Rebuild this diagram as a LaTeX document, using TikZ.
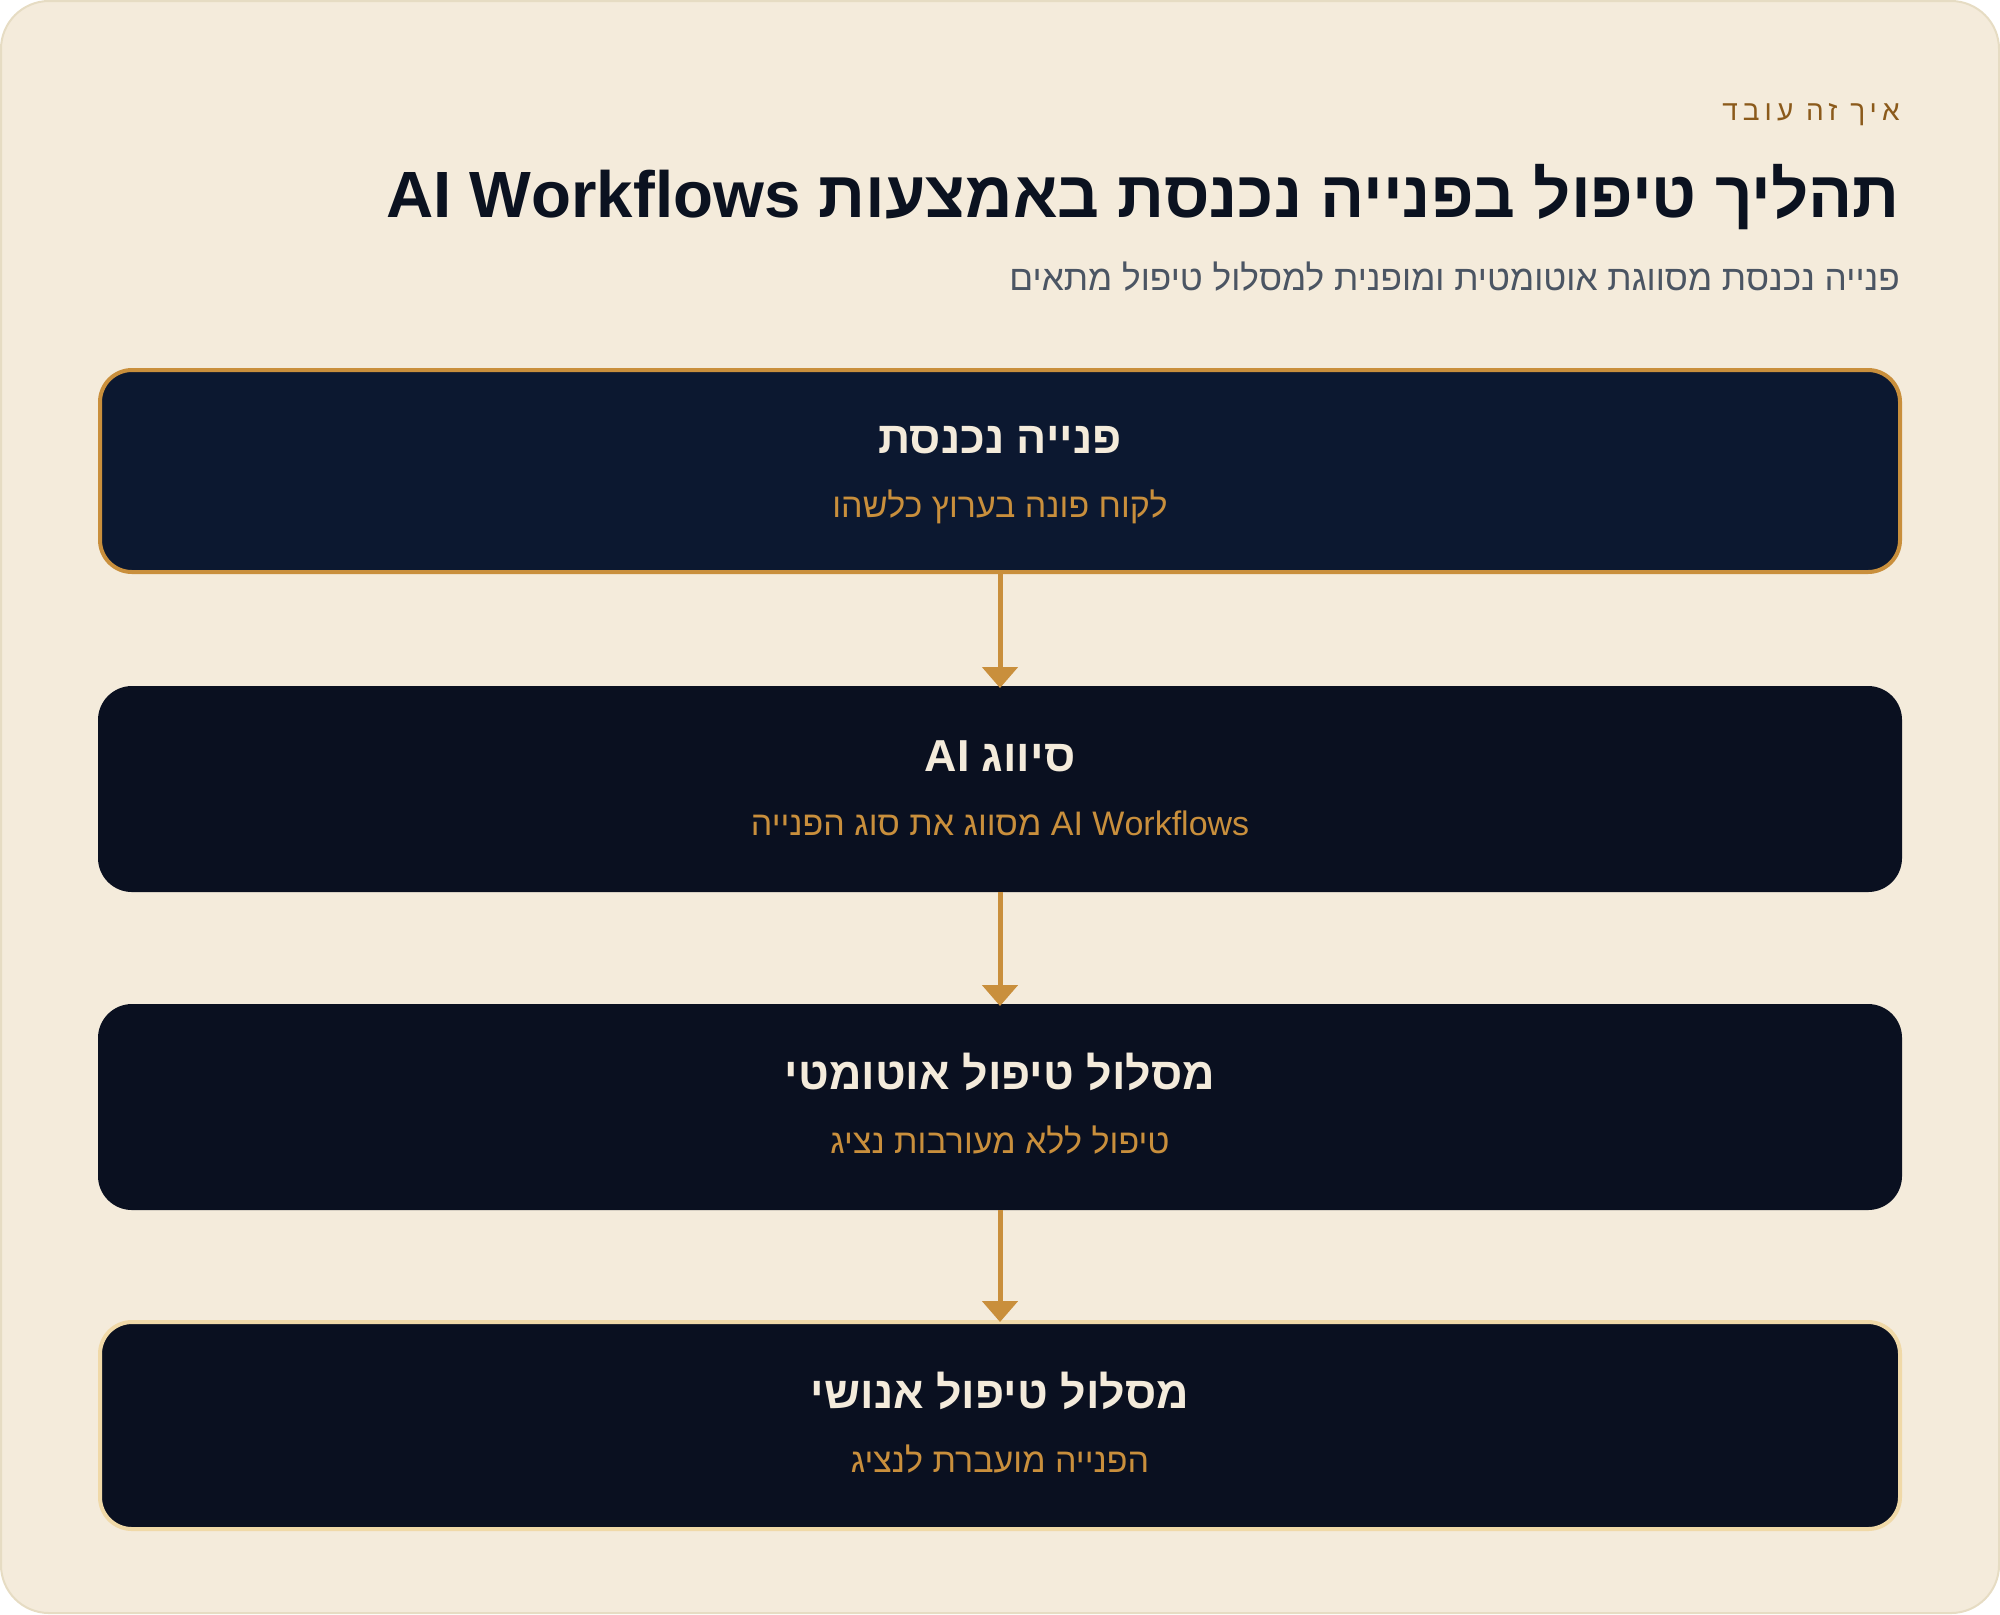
\documentclass[tikz,border=0pt]{standalone}
\usepackage{fontspec}
\setmainfont{Liberation Sans}
\newfontfamily\heb[Script=Hebrew]{Liberation Sans}
\newfontfamily\hebsp[Script=Hebrew,LetterSpace=18]{Liberation Sans}
\TeXXeTstate=1
\usetikzlibrary{arrows.meta}
\definecolor{bgc}{HTML}{F4EBDB}
\definecolor{cardline}{HTML}{E6DCC3}
\definecolor{labelc}{HTML}{8B5A1B}
\definecolor{titlec}{HTML}{0B1220}
\definecolor{subc}{HTML}{4B5563}
\definecolor{boxa}{HTML}{0C1830}
\definecolor{boxb}{HTML}{0A1020}
\definecolor{gold}{HTML}{C98F3C}
\definecolor{pale}{HTML}{F0D9A8}
\definecolor{cream}{HTML}{F4EBDB}
\tikzset{
  x=0.5pt, y=-0.5pt,
  stepbox/.style={rectangle, rounded corners=16pt, minimum width=900pt, minimum height=101pt,
    inner sep=0pt, line width=2pt, fill=boxb, draw=boxb},
  boxtitle/.style={anchor=base, text=cream, font=\heb\bfseries\fontsize{22.4}{27}\selectfont, inner sep=0pt},
  boxsub/.style={anchor=base, text=gold, font=\heb\fontsize{17}{20}\selectfont, inner sep=0pt},
  flow/.style={draw=gold, line width=2.5pt, -{Triangle[width=17.5pt,length=10.5pt]}, shorten >=-1pt},
}
\begin{document}
\begin{tikzpicture}
\useasboundingbox (0,0) rectangle (2000,1614);
\draw[fill=bgc, draw=cardline, line width=1pt, rounded corners=24pt] (1,1) rectangle (1999,1613);
% header
\node[anchor=base east, inner sep=0pt, text=labelc, font=\hebsp\fontsize{14}{17}\selectfont] (label) at (1900,120) {\beginR איך זה עובד\endR};
\node[anchor=base east, inner sep=0pt, text=titlec, font=\heb\bfseries\fontsize{32.7}{39}\selectfont] (title) at (1900,217) {\beginR תהליך טיפול בפנייה נכנסת באמצעות \beginL AI Workflows\endL\endR};
\node[anchor=base east, inner sep=0pt, text=subc, font=\heb\fontsize{17.6}{21}\selectfont] (subtitle) at (1900,290) {\beginR פנייה נכנסת מסווגת אוטומטית ומופנית למסלול טיפול מתאים\endR};
% boxes
\node[stepbox, fill=boxa, draw=gold] (b1) at (1000,471) {};
\node[stepbox] (b2) at (1000,789) {};
\node[stepbox] (b3) at (1000,1107) {};
\node[stepbox, draw=pale, minimum height=103.5pt] (b4) at (1000,1425.5) {};
% texts
\node[boxtitle] (t1) at (1000,453) {\beginR פנייה נכנסת\endR};
\node[boxsub] (s1) at (1000,517) {\beginR לקוח פונה בערוץ כלשהו\endR};
\node[boxtitle] (t2) at (1000,771) {\beginR סיווג \beginL AI\endL\endR};
\node[boxsub] (s2) at (1000,835) {\beginR\beginL AI Workflows\endL{} מסווג את סוג הפנייה\endR};
\node[boxtitle] (t3) at (1000,1089) {\beginR מסלול טיפול אוטומטי\endR};
\node[boxsub] (s3) at (1000,1153) {\beginR טיפול ללא מעורבות נציג\endR};
\node[boxtitle] (t4) at (1000,1408) {\beginR מסלול טיפול אנושי\endR};
\node[boxsub] (s4) at (1000,1472) {\beginR הפנייה מועברת לנציג\endR};
% connectors
\draw[flow] (b1.south) -- (b2.north);
\draw[flow] (b2.south) -- (b3.north);
\draw[flow] (b3.south) -- (b4.north);
\end{tikzpicture}
\end{document}
